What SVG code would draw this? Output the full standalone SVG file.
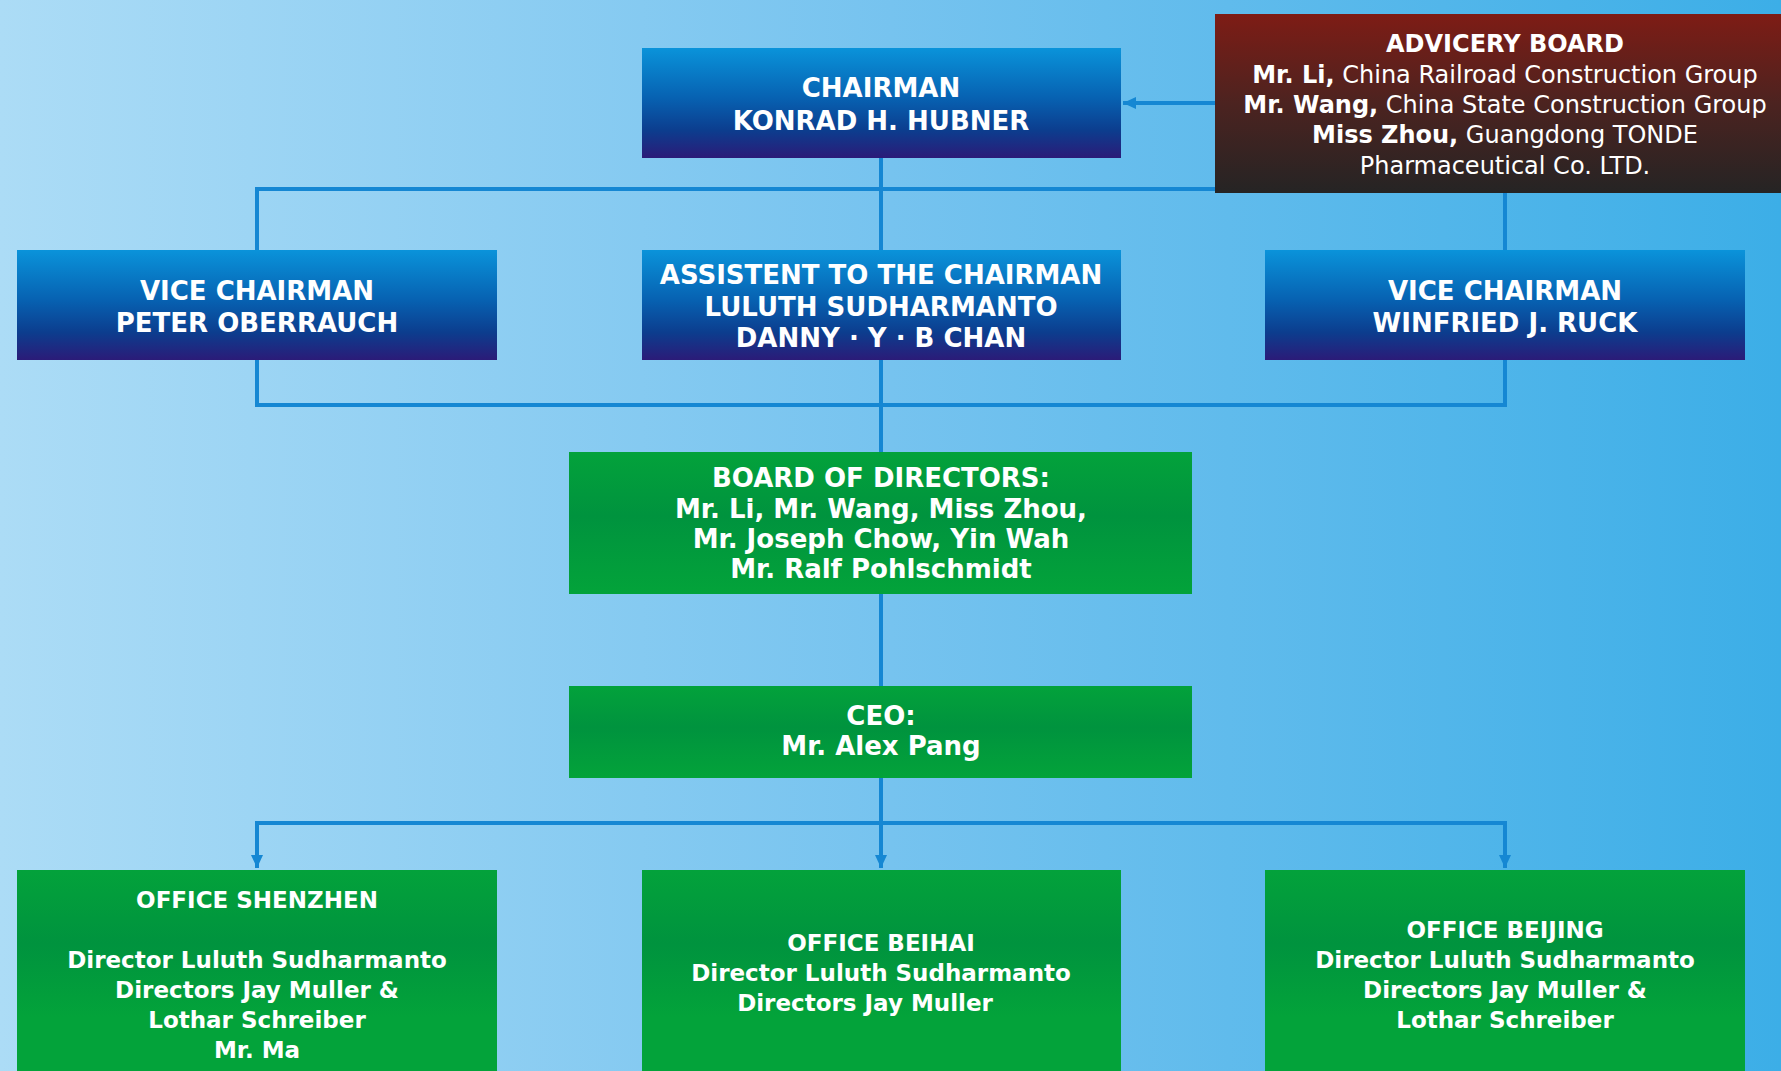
<svg xmlns="http://www.w3.org/2000/svg" width="1781" height="1071" viewBox="0 0 1781 1071">
<defs>
<linearGradient id="bg" x1="0" y1="0" x2="1" y2="0">
<stop offset="0" stop-color="#acdcf6"/>
<stop offset="0.5" stop-color="#76c3ef"/>
<stop offset="1" stop-color="#3caee7"/>
</linearGradient>
<linearGradient id="blue" x1="0" y1="0" x2="0" y2="1">
<stop offset="0" stop-color="#0a93da"/>
<stop offset="0.45" stop-color="#0762b2"/>
<stop offset="0.75" stop-color="#0c3d8e"/>
<stop offset="1" stop-color="#2b1b78"/>
</linearGradient>
<linearGradient id="green" x1="0" y1="0" x2="0" y2="1">
<stop offset="0" stop-color="#03a23b"/>
<stop offset="0.45" stop-color="#00933e"/>
<stop offset="1" stop-color="#03a33a"/>
</linearGradient>
<linearGradient id="greenTall" x1="0" y1="0" x2="0" y2="1">
<stop offset="0" stop-color="#03a23b"/>
<stop offset="0.35" stop-color="#00933e"/>
<stop offset="0.7" stop-color="#03a33a"/>
<stop offset="1" stop-color="#03a33a"/>
</linearGradient>
<linearGradient id="red" x1="0" y1="0" x2="0" y2="1">
<stop offset="0" stop-color="#7e1c15"/>
<stop offset="0.5" stop-color="#4c2320"/>
<stop offset="1" stop-color="#252424"/>
</linearGradient>
<marker id="arr" markerUnits="userSpaceOnUse" markerWidth="14" markerHeight="14" viewBox="0 0 14 14" refX="13" refY="7" orient="auto">
<path d="M0,1 L13,7 L0,13 Z" fill="#1587d3"/>
</marker>
<style>
.ln{fill:none;stroke:#1587d3;stroke-width:4;stroke-linejoin:miter}
.t{font-family:"DejaVu Sans","Verdana",sans-serif;font-weight:bold;fill:#ffffff;text-anchor:middle}
.t26{font-size:26px}
.t23{font-size:23px}
.t24{font-size:24px}
.reg{font-weight:normal}
</style>
</defs>
<rect x="0" y="0" width="1781" height="1071" fill="url(#bg)"/>

<g id="connectors">
<path class="ln" d="M1215,103 H1123" marker-end="url(#arr)"/>
<path class="ln" d="M257,250 V189 H1505 V250"/>
<path class="ln" d="M881,158 V452"/>
<path class="ln" d="M257,359 V405 H1505 V359"/>
<path class="ln" d="M881,594 V686"/>
<path class="ln" d="M881,778 V868" marker-end="url(#arr)"/>
<path class="ln" d="M257,868 V823 H1505 V868" />
<path class="ln" d="M257,830 V868" marker-end="url(#arr)"/>
<path class="ln" d="M1505,830 V868" marker-end="url(#arr)"/>
</g>

<g id="advisory-board">
<rect x="1215" y="14" width="580" height="179" fill="url(#red)"/>
<text class="t t24" x="1505" y="52">ADVICERY BOARD</text>
<text class="t t24" x="1505" y="83">Mr. Li,<tspan class="reg"> China Railroad Construction Group</tspan></text>
<text class="t t24" x="1505" y="113">Mr. Wang,<tspan class="reg"> China State Construction Group</tspan></text>
<text class="t t24" x="1505" y="143">Miss Zhou,<tspan class="reg"> Guangdong TONDE</tspan></text>
<text class="t t24 reg" x="1505" y="174">Pharmaceutical Co. LTD.</text>
</g>

<g id="chairman">
<rect x="642" y="48" width="479" height="110" fill="url(#blue)"/>
<text class="t t26" x="881" y="97">CHAIRMAN</text>
<text class="t t26" x="881" y="130">KONRAD H. HUBNER</text>
</g>

<g id="vice-chairman-left">
<rect x="17" y="250" width="480" height="110" fill="url(#blue)"/>
<text class="t t26" x="257" y="300">VICE CHAIRMAN</text>
<text class="t t26" x="257" y="332">PETER OBERRAUCH</text>
</g>

<g id="assistant">
<rect x="642" y="250" width="479" height="110" fill="url(#blue)"/>
<text class="t t26" x="881" y="284">ASSISTENT TO THE CHAIRMAN</text>
<text class="t t26" x="881" y="316">LULUTH SUDHARMANTO</text>
<text class="t t26" x="881" y="347">DANNY · Y · B CHAN</text>
</g>

<g id="vice-chairman-right">
<rect x="1265" y="250" width="480" height="110" fill="url(#blue)"/>
<text class="t t26" x="1505" y="300">VICE CHAIRMAN</text>
<text class="t t26" x="1505" y="332">WINFRIED J. RUCK</text>
</g>

<g id="board-of-directors">
<rect x="569" y="452" width="623" height="142" fill="url(#green)"/>
<text class="t t26" x="881" y="487">BOARD OF DIRECTORS:</text>
<text class="t t26" x="881" y="518">Mr. Li, Mr. Wang, Miss Zhou,</text>
<text class="t t26" x="881" y="548">Mr. Joseph Chow, Yin Wah</text>
<text class="t t26" x="881" y="578">Mr. Ralf Pohlschmidt</text>
</g>

<g id="ceo">
<rect x="569" y="686" width="623" height="92" fill="url(#green)"/>
<text class="t t26" x="881" y="725">CEO:</text>
<text class="t t26" x="881" y="755">Mr. Alex Pang</text>
</g>

<g id="office-shenzhen">
<rect x="17" y="870" width="480" height="210" fill="url(#greenTall)"/>
<text class="t t23" x="257" y="908">OFFICE SHENZHEN</text>
<text class="t t23" x="257" y="968">Director Luluth Sudharmanto</text>
<text class="t t23" x="257" y="998">Directors Jay Muller &amp;</text>
<text class="t t23" x="257" y="1028">Lothar Schreiber</text>
<text class="t t23" x="257" y="1058">Mr. Ma</text>
</g>

<g id="office-beihai">
<rect x="642" y="870" width="479" height="210" fill="url(#greenTall)"/>
<text class="t t23" x="881" y="951">OFFICE BEIHAI</text>
<text class="t t23" x="881" y="981">Director Luluth Sudharmanto</text>
<text class="t t23" x="865" y="1011">Directors Jay Muller</text>
</g>

<g id="office-beijing">
<rect x="1265" y="870" width="480" height="210" fill="url(#greenTall)"/>
<text class="t t23" x="1505" y="938">OFFICE BEIJING</text>
<text class="t t23" x="1505" y="968">Director Luluth Sudharmanto</text>
<text class="t t23" x="1505" y="998">Directors Jay Muller &amp;</text>
<text class="t t23" x="1505" y="1028">Lothar Schreiber</text>
</g>
</svg>
